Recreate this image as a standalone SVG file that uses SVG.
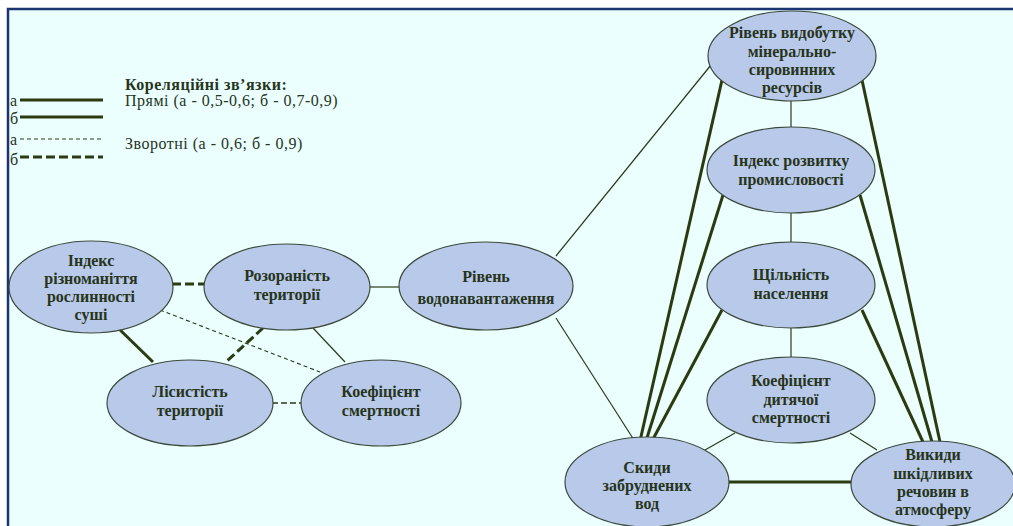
<svg xmlns="http://www.w3.org/2000/svg" width="1013" height="526" viewBox="0 0 1013 526">
<style>
.n ellipse{fill:#b9c9e9;stroke:#3c4a3c;stroke-width:1.2}
.n text{font-family:"Liberation Serif","DejaVu Serif",serif;font-weight:bold;font-size:16px;fill:#26341c;text-anchor:middle}
.thin{stroke:#2c3a14;stroke-width:1.2;fill:none}
.thick{stroke:#2c3a10;stroke-width:3;fill:none}
.dthin{stroke:#2c3a14;stroke-width:1.1;stroke-dasharray:4 3;fill:none}
.dmed{stroke:#2c3a14;stroke-width:1.6;stroke-dasharray:6 3;fill:none}
.dthick{stroke:#2c3a10;stroke-width:3;stroke-dasharray:9 4;fill:none}
.lg{font-family:"Liberation Serif","DejaVu Serif",serif;font-size:16px;letter-spacing:0.5px;fill:#26341c}
</style>
<rect width="1013" height="526" fill="#ffffff"/>
<rect x="8" y="9" width="1010" height="525" fill="#ebffff" stroke="#1c3570" stroke-width="2.5"/>

<g id="legend">
<text class="lg" x="125" y="90" font-weight="bold" font-size="17" letter-spacing="1">Кореляційні зв’язки:</text>
<text class="lg" x="125" y="106">Прямі (а - 0,5-0,6; б - 0,7-0,9)</text>
<text class="lg" x="125" y="149">Зворотні (а - 0,6; б - 0,9)</text>
<text class="lg" x="10" y="106" font-size="17">а</text>
<text class="lg" x="10" y="124" font-size="17">б</text>
<text class="lg" x="10" y="145" font-size="17">а</text>
<text class="lg" x="10" y="165" font-size="17">б</text>
<line class="thick" x1="20" y1="100" x2="103" y2="100" stroke-width="2"/>
<line class="thick" x1="20" y1="117" x2="103" y2="117" stroke-width="2.2"/>
<line class="dthin" x1="20" y1="139" x2="103" y2="139"/>
<line class="dthick" x1="20" y1="157" x2="103" y2="157" stroke-dasharray="8 3"/>
</g>

<g id="connectors">
<line class="dthick" x1="172" y1="284" x2="205" y2="284"/>
<line class="thick" x1="116" y1="326" x2="153" y2="362"/>
<line class="dthin" x1="160" y1="310" x2="320" y2="372"/>
<line class="dthick" x1="263" y1="328" x2="226" y2="362"/>
<line class="thin" x1="313" y1="328" x2="345" y2="362"/>
<line class="thin" x1="369" y1="287" x2="400" y2="287"/>
<line class="dmed" x1="272" y1="403" x2="302" y2="403"/>
<line class="thin" x1="556" y1="256" x2="711" y2="65"/>
<line class="thin" x1="556" y1="318" x2="634" y2="440"/>
<line class="thin" x1="791" y1="101" x2="791" y2="127"/>
<line class="thin" x1="791" y1="213" x2="791" y2="242"/>
<line class="thin" x1="791" y1="328" x2="791" y2="357"/>
<line class="thin" x1="705" y1="450" x2="735" y2="433"/>
<line class="thin" x1="850" y1="433" x2="877" y2="450"/>
<line class="thick" x1="728" y1="482" x2="853" y2="482"/>
<line class="thick" x1="722" y1="80" x2="640" y2="441"/>
<line class="thick" x1="723" y1="195" x2="646" y2="441"/>
<line class="thick" x1="722" y1="310" x2="652" y2="441"/>
<line class="thick" x1="862" y1="80" x2="940" y2="442"/>
<line class="thick" x1="860" y1="195" x2="932" y2="442"/>
<line class="thick" x1="862" y1="310" x2="923" y2="442"/>
</g>

<g id="n1" class="n"><ellipse cx="91" cy="287" rx="82" ry="46"/>
<text x="91" y="266">Індекс</text><text x="91" y="284">різноманіття</text><text x="91" y="302">рослинності</text><text x="91" y="320">суші</text></g>
<g id="n2" class="n"><ellipse cx="287" cy="287" rx="83" ry="43"/>
<text x="287" y="281">Розораність</text><text x="287" y="300">території</text></g>
<g id="n3" class="n"><ellipse cx="486" cy="286" rx="87" ry="44"/>
<text x="486" y="282">Рівень</text><text x="486" y="304">водонавантаження</text></g>
<g id="n4" class="n"><ellipse cx="190" cy="403" rx="83" ry="43"/>
<text x="190" y="397">Лісистість</text><text x="190" y="416">території</text></g>
<g id="n5" class="n"><ellipse cx="381" cy="403" rx="80" ry="43"/>
<text x="381" y="397">Коефіцієнт</text><text x="381" y="416">смертності</text></g>
<g id="n6" class="n"><ellipse cx="792" cy="56" rx="84" ry="45"/>
<text x="792" y="38">Рівень видобутку</text><text x="792" y="57">мінерально-</text><text x="792" y="75">сировинних</text><text x="792" y="93">ресурсів</text></g>
<g id="n7" class="n"><ellipse cx="791" cy="170" rx="84" ry="43"/>
<text x="791" y="166">Індекс розвитку</text><text x="791" y="185">промисловості</text></g>
<g id="n8" class="n"><ellipse cx="791" cy="285" rx="84" ry="43"/>
<text x="791" y="280">Щільність</text><text x="791" y="299">населення</text></g>
<g id="n9" class="n"><ellipse cx="791" cy="400" rx="84" ry="43"/>
<text x="791" y="386">Коефіцієнт</text><text x="791" y="405">дитячої</text><text x="791" y="423">смертності</text></g>
<g id="n10" class="n"><ellipse cx="647" cy="482" rx="82" ry="45"/>
<text x="647" y="473">Скиди</text><text x="647" y="491">забруднених</text><text x="647" y="509">вод</text></g>
<g id="n11" class="n"><ellipse cx="933" cy="484" rx="82" ry="43"/>
<text x="933" y="460">Викиди</text><text x="933" y="479">шкідливих</text><text x="933" y="497">речовин в</text><text x="933" y="515">атмосферу</text></g>
</svg>
